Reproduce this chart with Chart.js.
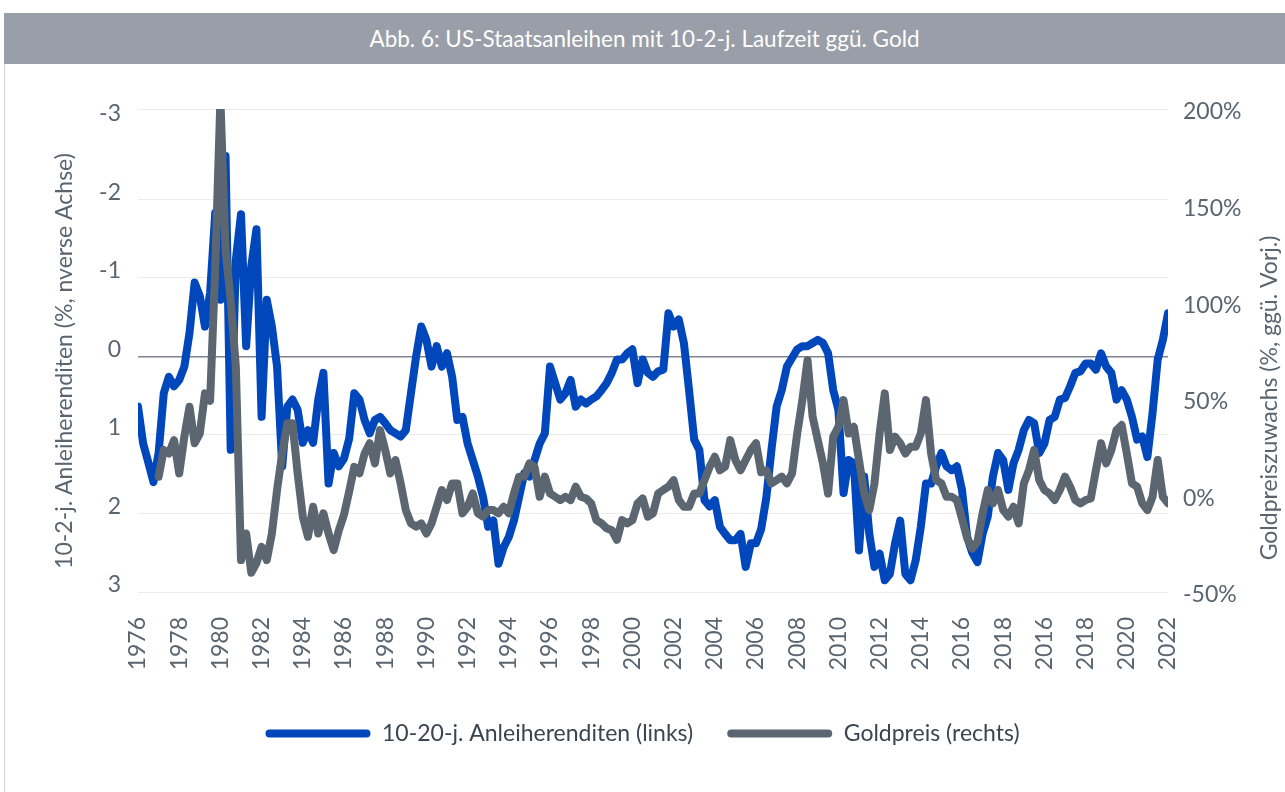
<!DOCTYPE html>
<html>
<head>
<meta charset="utf-8">
<script src="https://cdn.jsdelivr.net/npm/chart.js@4"></script>
<style>
  body { margin: 0; background: #fff; }
  #bar {
    position: absolute; left: 4px; top: 13px; width: 1281px; height: 51px;
    background: #999ea8; color: #fff; font: 22.5px Lato, sans-serif;
    text-align: center; line-height: 51px;
  }
  #edge { position: absolute; left: 4px; top: 64px; width: 1px; height: 728px; background: #d6d6d6; }
  canvas { position: absolute; left: 0; top: 0; }
</style>
</head>
<body>
<div id="bar">Abb. 6: US-Staatsanleihen mit 10-2-j. Laufzeit ggü. Gold</div>
<div id="edge"></div>
<canvas id="myChart" width="1285" height="792"></canvas>
<script>
// tick labels on the x axis (as printed in the original, incl. the repeated years)
var yearLabels = ["1976", "1978", "1980", "1982", "1984", "1986", "1988", "1990", "1992",
  "1994", "1996", "1998", "2000", "2002", "2004", "2006", "2008", "2010", "2012",
  "2014", "2016", "2018", "2016", "2018", "2020", "2022"];
var pointsPerLabel = 8;

// 10-2y spread, %, left axis (inverted)
var spread = [
  0.64, 1.11, 1.35, 1.6, 1.23, 0.47, 0.26, 0.38, 0.3, 0.13,
  -0.3, -0.94, -0.77, -0.38, -0.81, -1.83, -0.72, -2.55, 1.19, -1.23,
  -1.81, -0.13, -1.15, -1.62, 0.77, -0.72, -0.38, 0.13, 1.4, 0.64,
  0.55, 0.68, 1.1, 0.94, 1.1, 0.55, 0.21, 1.62, 1.23, 1.4,
  1.3, 1.05, 0.47, 0.55, 0.81, 0.98, 0.81, 0.77, 0.85, 0.94,
  0.98, 1.02, 0.94, 0.47, 0, -0.38, -0.21, 0.13, -0.13, 0.13,
  -0.04, 0.26, 0.81, 0.77, 1.11, 1.32, 1.53, 1.79, 2.17, 2.09,
  2.64, 2.43, 2.3, 2.09, 1.79, 1.49, 1.53, 1.32, 1.11, 0.98,
  0.13, 0.34, 0.55, 0.47, 0.3, 0.64, 0.55, 0.6, 0.55, 0.51,
  0.43, 0.34, 0.21, 0.04, 0.04, -0.04, -0.09, 0.34, 0.04, 0.21,
  0.26, 0.19, 0.17, -0.55, -0.38, -0.47, -0.17, 0.43, 1.06, 1.19,
  1.83, 1.91, 1.83, 2.17, 2.26, 2.34, 2.34, 2.26, 2.68, 2.38,
  2.38, 2.2, 1.8, 1.19, 0.64, 0.43, 0.13, 0.02, -0.09, -0.13,
  -0.13, -0.17, -0.21, -0.17, -0.04, 0.43, 0.68, 1.74, 1.32, 1.36,
  2.47, 1.53, 2.26, 2.68, 2.51, 2.85, 2.77, 2.38, 2.09, 2.77,
  2.85, 2.6, 2.17, 1.62, 1.62, 1.4, 1.23, 1.4, 1.45, 1.4,
  1.7, 2.3, 2.5, 2.62, 2.26, 2.04, 1.53, 1.23, 1.32, 1.7,
  1.36, 1.19, 0.94, 0.81, 0.85, 1.23, 1.11, 0.81, 0.77, 0.55,
  0.53, 0.38, 0.21, 0.19, 0.09, 0.09, 0.17, -0.04, 0.13, 0.21,
  0.55, 0.43, 0.55, 0.77, 1.06, 1.02, 1.28, 0.72, 0.04, -0.21,
  -0.55
];

// gold price, % yoy, right axis
var gold = [
  null, null, null, null, 9.7, 23.5, 21.7, 28.6, 11.4, 30.4,
  45.9, 27, 32, 52.8, 49, 118, 205, 127, 101, 66.6,
  -33.5, -19.7, -40, -35, -26.6, -33.5, -19.7, 2.8, 21.7, 37.3,
  37.3, 11.4, -11, -21.4, -5.9, -19.7, -9.3, -19.7, -28.3, -18,
  -10, 2, 14.8, 11.4, 21.7, 27, 16.6, 33.8, 23.5, 11.4,
  18.3, 6.2, -7.6, -14.5, -16.2, -14.5, -19.7, -14.5, -5.9, 2.8,
  -2.4, 6.2, 6.2, -9.3, -5.9, 1, -9.3, -11, -7.6, -7.6,
  -9.3, -5.9, -9.3, 1, 9.7, 9.7, 16.6, 14.8, -0.7, 9.7,
  1, -0.7, -2.4, -0.7, -2.4, 4.5, -0.7, -1.6, -4.1, -12.8,
  -14.5, -17, -18, -23, -12.8, -14.5, -12.8, -4.1, -1.6, -11,
  -9.3, 1, 2.8, 4.5, 7.9, -2.4, -5.9, -5.9, 1, 1,
  7.9, 14.8, 20, 13, 14.8, 28.6, 18.3, 13, 18.3, 23.5,
  27, 12, 13, 6.2, 7.9, 9.7, 6.2, 11.4, 32, 49.3,
  70, 40.7, 28.6, 16.6, 1, 30.4, 35.5, 49.3, 32, 35.5,
  18.3, 1, -7.6, 6.2, 32, 52.8, 23.5, 30.4, 27, 21.7,
  25.2, 25.2, 32, 49.3, 21.7, 7.9, 6.2, -0.7, -0.7, -2.4,
  -12, -22, -27.5, -24, -9.3, 2.8, -4.1, 2.8, -7.6, -11,
  -5.9, -14.5, 6.2, 13, 23.5, 7.9, 2.8, 1, -2.4, 2.8,
  9.7, 4.5, -2.4, -4.1, -2.4, -1.6, 13, 27, 16.6, 23.5,
  33.8, 36.4, 21.7, 6.2, 4.5, -4.1, -7.6, -0.7, 18.3, -0.7,
  -4.1
];

var leftTitle = "10-2-j. Anleiherenditen (%, nverse Achse)";
var rightTitle = "Goldpreiszuwachs (%, ggü. Vorj.)";

var tickColor = "#5a6570";
Chart.defaults.font.family = "Lato, sans-serif";
Chart.defaults.font.size = 23;
Chart.defaults.color = tickColor;

function toPoints(arr) {
  return arr.map(function (v, i) {
    return { x: i / pointsPerLabel, y: v };
  });
}

// both axis titles read bottom-to-top, so draw them by hand
function drawVertical(c, text, x, y) {
  c.save();
  c.fillStyle = tickColor;
  c.font = "23px Lato, sans-serif";
  c.textAlign = "center";
  c.textBaseline = "middle";
  c.translate(x, y);
  c.rotate(-Math.PI / 2);
  c.fillText(text, 0, 0);
  c.restore();
}

var axisTitles = {
  id: "axisTitles",
  afterDraw: function (chart) {
    drawVertical(chart.ctx, leftTitle, 65, 361);
    drawVertical(chart.ctx, rightTitle, 1270, 398);
  },
};

var ctx = document.getElementById("myChart");
var myChart = new Chart(ctx, {
  type: "line",
  data: {
    datasets: [
      {
        label: "10-20-j. Anleiherenditen (links)",
        data: toPoints(spread),
        yAxisID: "y",
        order: 1,
        borderColor: "#0047bb",
        backgroundColor: "#0047bb",
        borderWidth: 8,
        borderJoinStyle: "round",
        borderCapStyle: "round",
        pointRadius: 0,
        tension: 0,
        clip: 0,
      },
      {
        label: "Goldpreis (rechts)",
        data: toPoints(gold),
        yAxisID: "y1",
        order: 0,
        borderColor: "#5b6670",
        backgroundColor: "#5b6670",
        borderWidth: 8,
        borderJoinStyle: "round",
        borderCapStyle: "round",
        pointRadius: 0,
        tension: 0,
        clip: 0,
      },
    ],
  },
  options: {
    responsive: false,
    animation: false,
    layout: { padding: { top: 109, bottom: 37, left: 0, right: 0 } },
    plugins: {
      legend: {
        position: "bottom",
        labels: {
          boxWidth: 105,
          boxHeight: 8,
          padding: 34,
          color: "#3b4550",
          font: { size: 23 },
          useBorderRadius: true,
          borderRadius: 4,
          sort: function (a, b) { return a.datasetIndex - b.datasetIndex; },
          generateLabels: function (chart) {
            var items = Chart.defaults.plugins.legend.labels.generateLabels(chart);
            items.forEach(function (it) { it.lineWidth = 0; });
            return items;
          },
        },
      },
      tooltip: { enabled: false },
    },
    scales: {
      x: {
        type: "linear",
        min: 0,
        max: 25,
        grid: { display: false },
        border: { display: false },
        ticks: {
          stepSize: 1,
          autoSkip: false,
          minRotation: 90,
          maxRotation: 90,
          padding: 17,
          callback: function (v) { return yearLabels[v]; },
        },
        afterFit: function (s) { s.height = 96; },
      },
      y: {
        position: "left",
        reverse: true,
        min: -3.15,
        max: 3,
        border: { display: false },
        grid: {
          drawTicks: false,
          color: function (c) {
            if (c.tick.value === 0) return "#7d848b";
            if (c.tick.value === -3) return "rgba(0,0,0,0)";
            return "#ebebeb";
          },
          lineWidth: function (c) { return c.tick.value === 0 ? 1.5 : 1; },
        },
        ticks: { stepSize: 1, includeBounds: false, labelOffset: -7, padding: 17 },
        afterFit: function (s) { s.width = 138; },
      },
      y1: {
        position: "right",
        min: -50,
        max: 200,
        border: { display: false },
        grid: {
          drawTicks: false,
          color: function (c) { return c.tick.value === 200 ? "#ebebeb" : "rgba(0,0,0,0)"; },
        },
        ticks: {
          stepSize: 50,
          labelOffset: 3,
          padding: 15,
          callback: function (v) { return v + "%"; },
        },
        afterFit: function (s) { s.width = 117; },
      },
    },
  },
  plugins: [axisTitles],
});
</script>
</body>
</html>
